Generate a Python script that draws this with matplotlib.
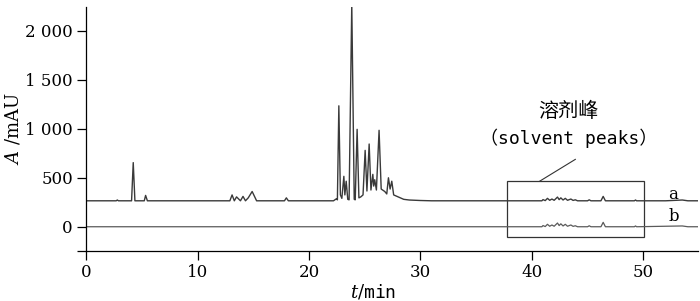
import matplotlib
matplotlib.use('Agg')
import matplotlib.pyplot as plt
import numpy as np

plt.rcParams['mathtext.fontset'] = 'dejavuserif'
plt.rcParams['font.family'] = ['DejaVu Serif', 'Noto Sans CJK SC']

# trace a (sample) - retention time (min) and signal above its own baseline (mAU)
t_a = [0, 2.7, 2.8, 2.9, 4.08, 4.23, 4.38, 5.22, 5.34, 5.5,
       12.9, 13.1, 13.3, 13.5, 13.85, 14.08, 14.3, 14.55, 14.9, 15.3,
       17.8, 17.97, 18.15, 22.2, 22.45, 22.55, 22.68, 22.82, 22.95, 23.13,
       23.22, 23.34, 23.48, 23.6, 23.84, 24.06, 24.15, 24.32, 24.48, 24.65,
       24.85, 25.04, 25.2, 25.4, 25.56, 25.73, 25.81, 25.9, 26.05, 26.29,
       26.48, 26.8, 26.98, 27.13, 27.28, 27.43, 27.6, 28.0, 28.5, 29.0,
       30.0, 31.0, 38.0, 40.9, 41.0, 41.2, 41.4, 41.6, 41.8, 42.0,
       42.3, 42.45, 42.6, 42.8, 43.0, 43.2, 43.5, 43.7, 43.9, 44.1,
       45.0, 45.15, 45.3, 46.2, 46.4, 46.6, 49.2, 49.3, 49.4, 52.0,
       53.5, 54.0, 55.0]
h_a = [0, 0, 8, 0, 0, 390, 0, 0, 55, 0,
       0, 60, 0, 40, 0, 45, 0, 30, 95, 0,
       0, 30, 0, 0, 20, 10, 970, 60, 25, 250,
       60, 200, 15, 10, 2010, 15, 10, 730, 30, 40,
       60, 515, 100, 580, 110, 270, 150, 215, 110, 720,
       120, 95, 70, 235, 120, 200, 60, 40, 15, 8,
       3, 0, 0, 0, 12, 2, 25, 5, 18, 5,
       38, 12, 30, 8, 25, 5, 18, 4, 10, 0,
       0, 10, 0, 0, 45, 0, 0, 8, 0, 0,
       8, 0, 0]

# trace b (blank / solvent) - only the solvent peaks
t_b = [0, 40.9, 41.0, 41.2, 41.4, 41.6, 41.8, 42.0,
       42.3, 42.45, 42.6, 42.8, 43.0, 43.2, 43.5, 43.7, 43.9, 44.1,
       45.0, 45.15, 45.3, 46.2, 46.4, 46.6, 49.2, 49.3, 49.4, 53.5, 54.0, 55.0]
h_b = [0, 0, 12, 2, 25, 5, 18, 5,
       38, 12, 30, 8, 25, 5, 18, 4, 10, 0,
       0, 10, 0, 0, 45, 0, 0, 8, 0, 8, 0, 0]

offset_a = 265
offset_b = 0

yticks = [-245, 0, 500, 1000, 1500, 2000]
ytick_labels = ['', '0', '500', '1 000', '1 500', '2 000']
xticks = [0, 10, 20, 30, 40, 50]

fig = plt.figure(figsize=(7.0, 3.01), dpi=100)
ax = fig.add_axes([0.123, 0.167, 0.874, 0.81])

ax.plot(t_a, np.array(h_a) + offset_a, color='#3a3a3a', lw=1.0)
ax.plot(t_b, np.array(h_b) + offset_b, color='#5a5a5a', lw=0.9)

# solvent peak box and label
ax.add_patch(plt.Rectangle((37.8, -100), 12.3, 565, fill=False, lw=0.9, color='#333333'))
ax.plot([40.7, 43.9], [465, 688], color='#333333', lw=0.8)
ax.text(43.3, 1175, '溶剂峰', ha='center', va='center', fontsize=14.5,
        family=['Noto Sans CJK SC'])
ax.text(43.3, 905, '（solvent peaks）', ha='center', va='center', fontsize=13,
        family=['DejaVu Sans Mono', 'Noto Sans CJK SC'])

ax.text(52.7, 330, 'a', ha='center', va='center', fontsize=12)
ax.text(52.7, 108, 'b', ha='center', va='center', fontsize=12)

ax.set_xlim(0, 54.9)
ax.set_ylim(-245, 2245)
ax.set_xticks(xticks)
ax.set_yticks(yticks)
ax.set_yticklabels(ytick_labels)
ax.tick_params(direction='out', length=6.5, width=0.9, labelsize=12, pad=3)

for s in ['top', 'right']:
    ax.spines[s].set_visible(False)
for s in ['left', 'bottom']:
    ax.spines[s].set_linewidth(0.9)

fig.text(373 / 700, 1 - 292 / 301, r'$\mathit{t}/\mathtt{min}$', fontsize=13,
         ha='center', va='center')
ax.set_ylabel(r'$\mathit{A}\ /\mathrm{mAU}$', fontsize=13, labelpad=2)

fig.savefig('out.png', dpi=100)
